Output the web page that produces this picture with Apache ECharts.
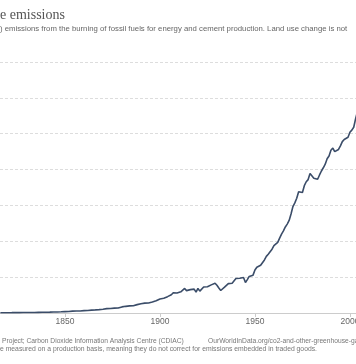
<!DOCTYPE html>
<html><head><meta charset="utf-8">
<script src="https://cdn.jsdelivr.net/npm/echarts@6/dist/echarts.min.js"></script>
<style>html,body{margin:0;padding:0;background:#fff}#c{width:356px;height:364px}</style>
</head><body><div id="c"></div>
<script>
// Annual CO2 emissions, billion tonnes, 1816..2004
const firstYear = 1816;
const emissions = [
0.040,0.042,0.043,0.044,0.045,0.046,0.048,0.050,0.052,0.055,
0.056,0.060,0.061,0.062,0.065,0.066,0.070,0.073,0.077,0.082,
0.088,0.091,0.096,0.102,0.108,0.114,0.117,0.122,0.130,0.140,
0.148,0.158,0.164,0.172,
0.197,0.198,0.207,0.217,0.255,0.259,0.276,0.281,0.285,0.301,
0.330,0.350,0.355,0.375,0.400,0.420,0.430,0.460,0.470,0.495,
0.520,0.560,0.610,0.650,0.630,0.670,0.680,0.690,0.700,0.750,
0.850,0.880,0.930,0.990,0.990,1.000,1.010,1.070,1.170,1.170,
1.290,1.350,1.380,1.350,1.400,1.480,1.530,1.600,1.700,1.850,
1.950,2.000,2.060,2.270,2.280,2.400,2.540,2.820,2.680,2.790,
2.900,2.960,3.110,3.420,3.120,3.030,3.260,3.430,3.330,2.900,
3.420,3.050,3.220,3.620,3.600,3.660,3.620,3.920,3.920,4.150,
3.860,3.480,3.140,3.320,3.600,3.770,4.100,4.350,4.150,4.400,
4.800,4.850,4.850,5.000,4.950,4.250,4.650,5.100,5.350,5.280,
6.000,6.380,6.480,6.650,6.780,7.400,7.900,8.200,8.460,8.900,
9.400,9.450,9.850,10.450,11.000,11.450,12.000,12.400,12.900,13.800,
14.850,15.350,16.000,16.900,16.800,16.800,17.750,18.300,18.600,19.450,
19.250,18.800,18.600,18.650,19.250,19.800,20.250,20.750,21.500,21.900,
22.700,23.000,22.500,22.600,22.800,23.300,23.900,24.200,24.200,24.500,
25.200,25.500,25.900,27.100,28.100
];
const years = emissions.map((_, i) => firstYear + i);
const xTicks = [1850, 1900, 1950, 2000];
const xRange = [1815.8, 2003.2];
const yTicks = [0, 5, 10, 15, 20, 25, 30, 35];

const titleText = 'e emissions';
const subtitleText = ') emissions from the burning of fossil fuels for energy and cement production. Land use change is not';
const sourceText = 'Project; Carbon Dioxide Information Analysis Centre (CDIAC)';
const urlText = 'OurWorldInData.org/co2-and-other-greenhouse-gas-emissions';
const noteText = 'e measured on a production basis, meaning they do not correct for emissions embedded in traded goods.';

const chart = echarts.init(document.getElementById('c'), null, {renderer: 'canvas'});
const sans = '"Liberation Sans", Arial, sans-serif';
chart.setOption({
  animation: false,
  backgroundColor: '#fff',
  grid: {left: 0, right: 0, top: 62, height: 251, containLabel: false, outerBoundsMode: 'none'},
  xAxis: {
    type: 'value', min: xRange[0], max: xRange[1],
    axisLine: {show: true, lineStyle: {color: '#ccc', width: 1}},
    axisTick: {show: true, length: 4, lineStyle: {color: '#ccc'}, customValues: xTicks},
    axisLabel: {color: '#666', fontSize: 8.5, fontFamily: sans, margin: 4, customValues: xTicks,
      formatter: v => String(Math.round(v)), hideOverlap: false, showMinLabel: true, showMaxLabel: true},
    splitLine: {show: false}
  },
  yAxis: {
    type: 'value', min: yTicks[0], max: yTicks[yTicks.length - 1], interval: 5,
    axisLine: {show: false}, axisTick: {show: false}, axisLabel: {show: false},
    splitLine: {show: true, lineStyle: {color: '#ddd', type: [3, 2], width: 1}}
  },
  series: [{
    type: 'line',
    data: years.map((y, i) => [y, emissions[i]]),
    showSymbol: false, symbol: 'none',
    lineStyle: {color: '#3b4d69', width: 1.6},
    clip: true
  }],
  graphic: [
    {type: 'text', left: 0, top: 8, style: {text: titleText, font: '14px "Liberation Serif", serif', fill: '#555'}},
    {type: 'text', left: 0, top: 25, style: {text: subtitleText, font: '7.75px ' + sans, fill: '#666'}},
    {type: 'text', left: 2, top: 337.5, style: {text: sourceText, font: '6.7px ' + sans, fill: '#777'}},
    {type: 'text', left: 208, top: 337.5, style: {text: urlText, font: '6.7px ' + sans, fill: '#777'}},
    {type: 'text', left: 0, top: 345.5, style: {text: noteText, font: '6.8px ' + sans, fill: '#777'}}
  ]
});
</script></body></html>
